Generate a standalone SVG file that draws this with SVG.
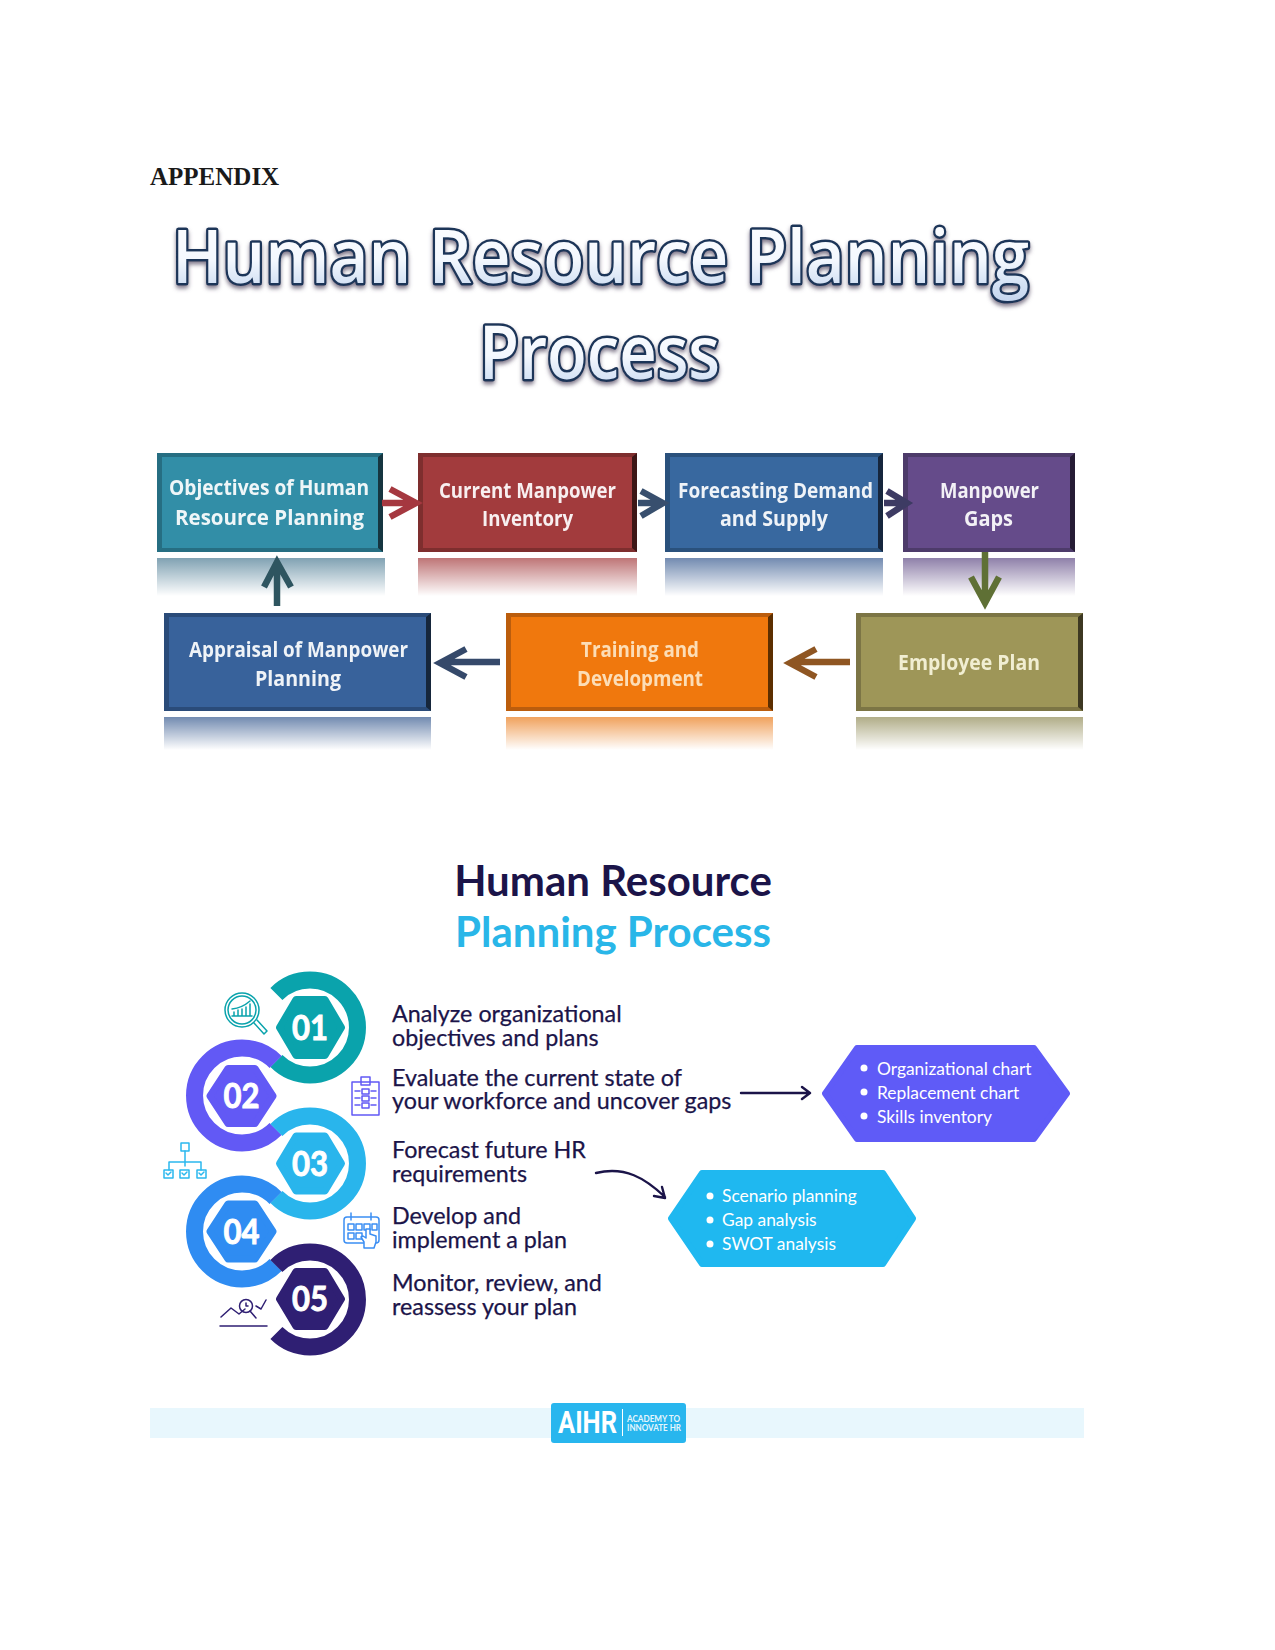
<svg xmlns="http://www.w3.org/2000/svg" width="1275" height="1650" viewBox="0 0 1275 1650">
<defs>
<linearGradient id="titleFill" x1="0" y1="0" x2="0" y2="1"><stop offset="0" stop-color="#ffffff"/><stop offset="0.55" stop-color="#f4f8fe"/><stop offset="0.8" stop-color="#d3e1f4"/><stop offset="1" stop-color="#c3d4ee"/></linearGradient>
<linearGradient id="fade" x1="0" y1="0" x2="0" y2="1"><stop offset="0" stop-color="#fff" stop-opacity="0.3"/><stop offset="1" stop-color="#fff" stop-opacity="1"/></linearGradient>
<filter id="titleShadow" x="-5%" y="-20%" width="110%" height="150%"><feDropShadow dx="0" dy="3" stdDeviation="2" flood-color="#5a5068" flood-opacity="0.75"/><feGaussianBlur stdDeviation="0.5"/></filter>
<filter id="soft" x="-5%" y="-5%" width="110%" height="110%"><feGaussianBlur stdDeviation="0.6"/></filter>
</defs>
<style>
text{font-family:"Lato","Liberation Sans",sans-serif}
.heading{font-family:"Liberation Serif",serif;font-weight:700;font-size:25px;fill:#1a1a1a}
.bigtitle{font-family:"Open Sans",sans-serif;font-weight:600;font-size:74px;fill:url(#titleFill);stroke:#1c3558;stroke-width:5px;paint-order:stroke;stroke-linejoin:round}
.boxlabel{font-family:"Open Sans",sans-serif;font-weight:700;font-size:22px;fill:#fff;fill-opacity:.92}
.title2{font-weight:700;font-size:42px}
.step{font-size:23.3px;fill:#1b1449;stroke:#1b1449;stroke-width:.25px}
.num{font-weight:700;font-size:34px;fill:#fff;stroke:#fff;stroke-width:.9px;text-anchor:middle}
.opt{font-size:17.4px;fill:#fff}
.ring{fill:none;stroke-width:17}
.hex{stroke-width:7;stroke-linejoin:round}
.edgeD{fill:#000;fill-opacity:.62}
.edgeL{fill:#000;fill-opacity:.22}
.arrow{fill:none;stroke-width:6.5;stroke-linecap:butt;stroke-linejoin:miter}
.thin{fill:none;stroke:#1b1449;stroke-width:2.4;stroke-linecap:round;stroke-linejoin:round}
.ic{fill:none;stroke-width:1.5;stroke-linejoin:round;stroke-linecap:round}
</style>

<rect width="1275" height="1650" fill="#fff"/>
<text class="heading" x="150" y="185">APPENDIX</text>

<g id="title-top" filter="url(#titleShadow)">
<text class="bigtitle" x="172" y="283" textLength="857" lengthAdjust="spacingAndGlyphs">Human Resource Planning</text>
<text class="bigtitle" x="479" y="379" textLength="241" lengthAdjust="spacingAndGlyphs">Process</text>
</g>

<!-- soft mirrored panels below each box -->
<g id="reflections">
<rect x="157" y="558" width="228" height="38" fill="#4a7a92"/><rect x="157" y="558" width="228" height="38" fill="url(#fade)"/>
<rect x="418" y="558" width="219" height="38" fill="#a33a3c"/><rect x="418" y="558" width="219" height="38" fill="url(#fade)"/>
<rect x="665" y="558" width="218" height="38" fill="#36598f"/><rect x="665" y="558" width="218" height="38" fill="url(#fade)"/>
<rect x="903" y="558" width="172" height="38" fill="#5f4a85"/><rect x="903" y="558" width="172" height="38" fill="url(#fade)"/>
<rect x="164" y="717" width="267" height="33" fill="#36598f"/><rect x="164" y="717" width="267" height="33" fill="url(#fade)"/>
<rect x="506" y="717" width="267" height="33" fill="#ea7a18"/><rect x="506" y="717" width="267" height="33" fill="url(#fade)"/>
<rect x="856" y="717" width="227" height="33" fill="#8f8a55"/><rect x="856" y="717" width="227" height="33" fill="url(#fade)"/>
</g>

<g id="flow-boxes" filter="url(#soft)">
<g id="box-objectives">
<rect x="157" y="453" width="226" height="99" fill="#338ea7"/>
<path class="edgeL" d="M157 453h226l-5 4H162v91l-5 4z"/><path class="edgeD" d="M383 453v99l-5-4V457z"/><path class="edgeL" d="M157 552h226l-5-4H162z"/>
<text class="boxlabel" x="169" y="495" textLength="200" lengthAdjust="spacingAndGlyphs">Objectives of Human</text>
<text class="boxlabel" x="175" y="525" textLength="189" lengthAdjust="spacingAndGlyphs">Resource Planning</text>
</g>
<g id="box-inventory">
<rect x="418" y="453" width="219" height="99" fill="#a23a3d"/>
<path class="edgeL" d="M418 453h219l-5 4H423v91l-5 4z"/><path class="edgeD" d="M637 453v99l-5-4V457z"/><path class="edgeL" d="M418 552h219l-5-4H423z"/>
<text class="boxlabel" x="439" y="498" textLength="177" lengthAdjust="spacingAndGlyphs">Current Manpower</text>
<text class="boxlabel" x="482" y="526" textLength="91" lengthAdjust="spacingAndGlyphs">Inventory</text>
</g>
<g id="box-forecasting">
<rect x="665" y="453" width="218" height="99" fill="#38689f"/>
<path class="edgeL" d="M665 453h218l-5 4H670v91l-5 4z"/><path class="edgeD" d="M883 453v99l-5-4V457z"/><path class="edgeL" d="M665 552h218l-5-4H670z"/>
<text class="boxlabel" x="678" y="498" textLength="195" lengthAdjust="spacingAndGlyphs">Forecasting Demand</text>
<text class="boxlabel" x="720" y="526" textLength="108" lengthAdjust="spacingAndGlyphs">and Supply</text>
</g>
<g id="box-gaps">
<rect x="903" y="453" width="172" height="99" fill="#654c8a"/>
<path class="edgeL" d="M903 453h172l-5 4H908v91l-5 4z"/><path class="edgeD" d="M1075 453v99l-5-4V457z"/><path class="edgeL" d="M903 552h172l-5-4H908z"/>
<text class="boxlabel" x="940" y="498" textLength="99" lengthAdjust="spacingAndGlyphs">Manpower</text>
<text class="boxlabel" x="964" y="526" textLength="49" lengthAdjust="spacingAndGlyphs">Gaps</text>
</g>
<g id="box-appraisal">
<rect x="164" y="613" width="267" height="98" fill="#38629b"/>
<path class="edgeL" d="M164 613h267l-5 4H169v90l-5 4z"/><path class="edgeD" d="M431 613v98l-5-4V617z"/><path class="edgeL" d="M164 711h267l-5-4H169z"/>
<text class="boxlabel" x="189" y="657" textLength="219" lengthAdjust="spacingAndGlyphs">Appraisal of Manpower</text>
<text class="boxlabel" x="255" y="686" textLength="86" lengthAdjust="spacingAndGlyphs">Planning</text>
</g>
<g id="box-training">
<rect x="506" y="613" width="267" height="98" fill="#f0780e"/>
<path class="edgeL" d="M506 613h267l-5 4H511v90l-5 4z"/><path class="edgeD" d="M773 613v98l-5-4V617z"/><path class="edgeL" d="M506 711h267l-5-4H511z"/>
<text class="boxlabel" x="581" y="657" textLength="118" lengthAdjust="spacingAndGlyphs" style="fill:#fde6c4">Training and</text>
<text class="boxlabel" x="577" y="686" textLength="126" lengthAdjust="spacingAndGlyphs" style="fill:#fde6c4">Development</text>
</g>
<g id="box-employee">
<rect x="856" y="613" width="227" height="98" fill="#9e9658"/>
<path class="edgeL" d="M856 613h227l-5 4H861v90l-5 4z"/><path class="edgeD" d="M1083 613v98l-5-4V617z"/><path class="edgeL" d="M856 711h227l-5-4H861z"/>
<text class="boxlabel" x="898" y="670" textLength="142" lengthAdjust="spacingAndGlyphs" style="fill:#f8f5dc">Employee Plan</text>
</g>
</g>

<g id="flow-connectors" filter="url(#soft)">
<path class="arrow" stroke="#a5383f" d="M382 503H412M390 489L416 503L390 517"/>
<path class="arrow" stroke="#38506e" d="M638 503H660M641 491L663 503L641 516"/>
<path class="arrow" stroke="#3e3a63" d="M884 503H902M887 491L907 503L887 516"/>
<path class="arrow" stroke="#5f7036" d="M985 552V600M971 577L985 603L999 577"/>
<path class="arrow" stroke="#8f5624" d="M850 662H794M816 649L790 663L816 677"/>
<path class="arrow" stroke="#34496b" d="M500 662H444M466 649L440 663L466 677"/>
<path class="arrow" stroke="#2f5560" d="M277 606V566M264 587L277 562L291 587"/>
</g>

<g id="title-bottom">
<text class="title2" x="613" y="896" text-anchor="middle" fill="#1b1449">Human Resource</text>
<text class="title2" x="613" y="947" text-anchor="middle" fill="#29b6e8">Planning Process</text>
</g>

<!-- chained rings: each arc ends on the line between neighbouring centres -->
<g id="rings-connectors">
<path class="ring" stroke="#0aa3ac" d="M276.4 993.9A47.5 47.5 0 1 1 276.4 1061.1"/>
<path class="ring" stroke="#6259f5" d="M275.6 1061.9A47.5 47.5 0 1 0 275.6 1129.1"/>
<path class="ring" stroke="#29b5ec" d="M276.4 1129.9A47.5 47.5 0 1 1 276.4 1197.1"/>
<path class="ring" stroke="#2f8cf2" d="M275.6 1197.9A47.5 47.5 0 1 0 275.6 1265.1"/>
<path class="ring" stroke="#2f1f73" d="M276.4 1265.9A47.5 47.5 0 1 1 276.4 1333.1"/>
</g>

<g id="step-01">
<path class="hex" fill="#0aa3ac" stroke="#0aa3ac" d="M296 999.5H325L341.500 1027.5L325 1055.5H296L279.500 1027.5Z"/>
<text class="num" x="310" y="1039.5" textLength="36" lengthAdjust="spacingAndGlyphs">01</text>
<g class="ic" stroke="#0aa3ac"><circle cx="242" cy="1010" r="17"/><circle cx="242" cy="1010" r="14"/><path d="M254 1023l10 11 3-3-10-11M232 1016h20M234 1016v-4M238 1016v-6M242 1016v-7M246 1016v-9M250 1016v-12M232 1009q10-1 18-8"/></g>
<text class="step" x="392" y="1022">Analyze organizational</text>
<text class="step" x="392" y="1046">objectives and plans</text>
</g>
<g id="step-02">
<path class="hex" fill="#6259f5" stroke="#6259f5" d="M228 1068.500H255L273 1096L255 1123.500H228L210 1096Z"/>
<text class="num" x="241.500" y="1107.500" textLength="36" lengthAdjust="spacingAndGlyphs">02</text>
<g class="ic" stroke="#6259f5"><rect x="352" y="1082" width="27" height="33"/><rect x="361" y="1077" width="9" height="8"/><path d="M355 1091h5M371 1091h5M355 1098h5M371 1098h5M355 1105h5M371 1105h5"/><rect x="362" y="1089" width="7" height="5"/><rect x="362" y="1096" width="7" height="5"/><rect x="362" y="1103" width="7" height="5"/></g>
<text class="step" x="392" y="1085.500">Evaluate the current state of</text>
<text class="step" x="392" y="1109">your workforce and uncover gaps</text>
</g>
<g id="step-03">
<path class="hex" fill="#29b5ec" stroke="#29b5ec" d="M296 1136H325L341.500 1163.500L325 1191H296L279.500 1163.500Z"/>
<text class="num" x="310" y="1175.500" textLength="36" lengthAdjust="spacingAndGlyphs">03</text>
<g class="ic" stroke="#2bb8ee"><rect x="181" y="1143" width="8" height="8"/><path d="M185 1151v15M169 1170v-8h32v8"/><rect x="164" y="1170" width="9" height="8"/><rect x="180" y="1170" width="9" height="8"/><rect x="197" y="1170" width="9" height="8"/><path d="M166 1173l2 2 3-3M182 1173l2 2 3-3M199 1173l2 2 3-3"/></g>
<text class="step" x="392" y="1158">Forecast future HR</text>
<text class="step" x="392" y="1182">requirements</text>
</g>
<g id="step-04">
<path class="hex" fill="#2f8cf2" stroke="#2f8cf2" d="M228 1204H255L273 1231.500L255 1259H228L210 1231.500Z"/>
<text class="num" x="241.500" y="1243.500" textLength="36" lengthAdjust="spacingAndGlyphs">04</text>
<g class="ic" stroke="#3b8ef3"><rect x="344" y="1217" width="35" height="26" rx="3"/><path d="M351 1213v7M371 1213v7"/><rect x="348" y="1224" width="6" height="6"/><rect x="356" y="1224" width="6" height="6"/><rect x="364" y="1224" width="6" height="6"/><rect x="372" y="1224" width="5" height="6"/><rect x="348" y="1233" width="6" height="6"/><rect x="356" y="1233" width="6" height="6"/><path d="M364 1248v-6l-3-5 2-1 3 2v-9h4v5l6 2v6l-2 6z" fill="#fff"/></g>
<text class="step" x="392" y="1224">Develop and</text>
<text class="step" x="392" y="1248">implement a plan</text>
</g>
<g id="step-05">
<path class="hex" fill="#2f1f73" stroke="#2f1f73" d="M296 1271.500H325L341.500 1299L325 1326.500H296L279.500 1299Z"/>
<text class="num" x="310" y="1311" textLength="36" lengthAdjust="spacingAndGlyphs">05</text>
<g class="ic" stroke="#2f1f73"><path d="M221 1317l10-9 8 6 6-5M256 1306l5 3 5-9"/><circle cx="246" cy="1306" r="6.500"/><path d="M250 1311l6 7M246 1303v3h2"/><path d="M220 1326h47"/></g>
<text class="step" x="392" y="1290.500">Monitor, review, and</text>
<text class="step" x="392" y="1315">reassess your plan</text>
</g>

<g id="step-connectors">
<path class="thin" d="M741 1093H809M802 1087L810 1093L802 1099"/>
<path class="thin" d="M596 1173C625 1166 645 1178 665 1197M662 1187L665 1198L654 1196"/>
</g>

<g id="tools-workforce">
<path fill="#5f5bf7" stroke="#5f5bf7" stroke-width="6" stroke-linejoin="round" d="M857 1048H1034L1067 1093.500L1034 1139H857L825 1093.500Z"/>
<circle cx="864" cy="1068" r="3.500" fill="#fff"/><circle cx="864" cy="1092" r="3.500" fill="#fff"/><circle cx="864" cy="1116" r="3.500" fill="#fff"/>
<text class="opt" x="877" y="1075">Organizational chart</text>
<text class="opt" x="877" y="1099">Replacement chart</text>
<text class="opt" x="877" y="1122.500">Skills inventory</text>
</g>
<g id="tools-forecast">
<path fill="#1fb8f0" stroke="#1fb8f0" stroke-width="6" stroke-linejoin="round" d="M702 1173H883L913 1218.500L883 1264H702L671 1218.500Z"/>
<circle cx="710" cy="1196" r="3.500" fill="#fff"/><circle cx="710" cy="1220" r="3.500" fill="#fff"/><circle cx="710" cy="1244" r="3.500" fill="#fff"/>
<text class="opt" x="722" y="1202">Scenario planning</text>
<text class="opt" x="722" y="1226">Gap analysis</text>
<text class="opt" x="722" y="1250">SWOT analysis</text>
</g>

<g id="footer">
<rect x="150" y="1408" width="934" height="30" fill="#e8f7fd"/>
<rect x="551" y="1403" width="135" height="40" rx="3" fill="#28b6ee"/>
<text x="558" y="1433" font-weight="700" font-size="31" fill="#fff" style="font-family:Roboto,sans-serif" textLength="59" lengthAdjust="spacingAndGlyphs">AIHR</text>
<path d="M622.500 1409V1436" stroke="#fff" stroke-width="1"/>
<text x="627" y="1422" font-size="9" font-weight="700" fill="#fff" fill-opacity=".9" textLength="53" lengthAdjust="spacingAndGlyphs">ACADEMY TO</text>
<text x="627" y="1431" font-size="9" font-weight="700" fill="#fff" fill-opacity=".9" textLength="54" lengthAdjust="spacingAndGlyphs">INNOVATE HR</text>
</g>
</svg>
